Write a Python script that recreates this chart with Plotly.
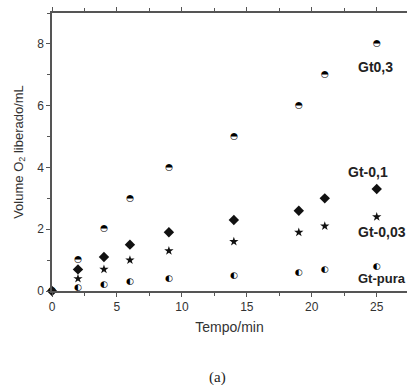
import plotly.graph_objects as go

# Data
t_gt03 = [0, 2, 4, 6, 9, 14, 19, 21, 25]
v_gt03 = [0, 1.0, 2.0, 3.0, 4.0, 5.0, 6.0, 7.0, 8.0]

t_gt01 = [0, 2, 4, 6, 9, 14, 19, 21, 25]
v_gt01 = [0, 0.7, 1.1, 1.5, 1.9, 2.3, 2.6, 3.0, 3.3]

t_gt003 = [2, 4, 6, 9, 14, 19, 21, 25]
v_gt003 = [0.4, 0.7, 1.0, 1.3, 1.6, 1.9, 2.1, 2.4]

t_pura = [2, 4, 6, 9, 14, 19, 21, 25]
v_pura = [0.1, 0.2, 0.3, 0.4, 0.5, 0.6, 0.7, 0.8]

x_ticks = [0, 5, 10, 15, 20, 25]
y_ticks = [0, 2, 4, 6, 8]

fig = go.Figure()

fig.add_trace(go.Scatter(x=t_gt03, y=v_gt03, mode="text", text=["\u25d3"] * len(t_gt03),
                         textfont=dict(family="DejaVu Sans", size=9, color="#000"),
                         textposition="middle center", showlegend=False, cliponaxis=False))
fig.add_trace(go.Scatter(x=t_gt01, y=v_gt01, mode="markers",
                         marker=dict(symbol="diamond", size=8, color="#111"), showlegend=False, cliponaxis=False))
fig.add_trace(go.Scatter(x=t_gt003, y=v_gt003, mode="markers",
                         marker=dict(symbol="star", size=7, color="#111"), showlegend=False, cliponaxis=False))
fig.add_trace(go.Scatter(x=t_pura, y=v_pura, mode="text", text=["\u25d0"] * len(t_pura),
                         textfont=dict(family="DejaVu Sans", size=9, color="#000"),
                         textposition="middle center", showlegend=False, cliponaxis=False))

lab_font = dict(family="Liberation Sans, Arial", size=14, color="#222")
fig.add_annotation(x=24.9, y=7.24, text="<b>Gt0,3</b>", showarrow=False, font=lab_font, xanchor="center")
fig.add_annotation(x=24.3, y=3.84, text="<b>Gt-0,1</b>", showarrow=False, font=lab_font, xanchor="center")
fig.add_annotation(x=23.4, y=1.91, text="<b>Gt-0,03</b>", showarrow=False, font=lab_font, xanchor="left")
fig.add_annotation(x=23.4, y=0.40, text="<b>Gt-pura</b>", showarrow=False,
                   font=dict(family="Liberation Sans, Arial", size=13, color="#222"), xanchor="left")

fig.add_annotation(x=0.465, y=-0.349, xref="paper", yref="paper", text="(a)", showarrow=False,
                   font=dict(family="Liberation Serif, Times New Roman", size=15, color="#222"))

axis_common = dict(showline=True, linecolor="#555", linewidth=1.5,
                   ticks="outside", ticklen=4, tickwidth=1, tickcolor="#555",
                   showgrid=False, zeroline=False,
                   tickfont=dict(family="Liberation Sans, Arial", size=12, color="#333"))

fig.update_xaxes(range=[0, 27.33], tickvals=x_ticks, ticktext=[str(v) for v in x_ticks], mirror="ticks",
                 minor=dict(dtick=2.5, tick0=0, ticks="outside", ticklen=3, tickcolor="#555"),
                 title=dict(text="Tempo/min", font=dict(family="Liberation Sans, Arial", size=14, color="#333"),
                            standoff=9),
                 **axis_common)
fig.update_yaxes(range=[0, 9], tickvals=y_ticks, ticktext=[str(v) for v in y_ticks], mirror=False,
                 minor=dict(dtick=1, tick0=0, ticks="outside", ticklen=3, tickcolor="#555"),
                 title=dict(text="Volume O<sub>2</sub> liberado/mL",
                            font=dict(family="Liberation Sans, Arial", size=13, color="#333"), standoff=11),
                 **axis_common)

fig.update_layout(width=407, height=385, margin=dict(l=52, r=0, t=13, b=94),
                  plot_bgcolor="white", paper_bgcolor="white")

fig.write_html("out.html")
